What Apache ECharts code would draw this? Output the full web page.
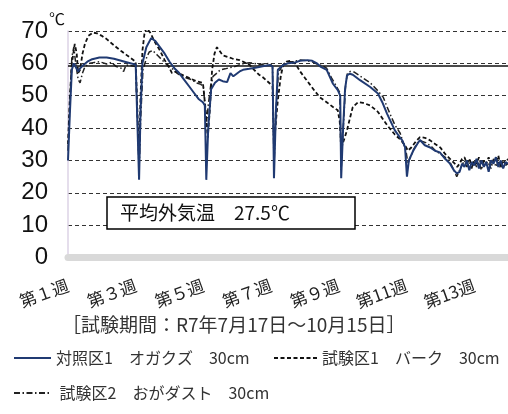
<!DOCTYPE html>
<html>
<head>
<meta charset="utf-8">
<script src="https://cdn.jsdelivr.net/npm/echarts@6/dist/echarts.min.js"></script>
<style>html,body{margin:0;padding:0;background:#fff}#c{width:508px;height:414px}</style>
</head>
<body>
<div id="c"></div>
<script>
// x = day since start of trial (7/17), y = temperature (℃)
const weekLabels = ['第１週','第３週','第５週','第７週','第９週','第11週','第13週'];
const seriesNames = ['対照区1　オガクズ　30cm','試験区1　バーク　30cm','試験区2　おがダスト　30cm'];
const refLine = 59.2;
const outsideTemp = '平均外気温　27.5℃';
const periodText = '［試験期間：R7年7月17日～10月15日］';

const ctrlOgakuzu = [[0,30],[0.4,45],[0.8,58],[1.2,60],[1.6,59.5],[2.1,57.5],[2.5,58.5],[3.2,59.5],[4,60.5],[5,61.3],[6.5,61.8],[8,61.8],[9.5,61.4],[11,60.8],[12.5,60.2],[14,59.6],[14.4,59],[14.7,24],[15.0,45],[15.4,60],[16.2,65],[17.2,67.8],[18,67],[19,65],[20,63],[21,60.5],[22,58.5],[23,57],[24,55],[25,53],[26,51],[27,49],[27.9,48],[28.3,47],[28.6,24],[29,40],[29.6,52],[30.4,54],[31.2,55],[32,54.5],[32.9,54.2],[33.6,57],[34.2,56],[34.6,56.3],[35.5,57.5],[36.2,58],[37.5,58.3],[39,58.7],[40.5,59.2],[41.8,59.5],[42.3,59],[42.6,24.5],[43,45],[43.4,58],[44.5,59.5],[45.5,60],[47,60.3],[48,60.8],[49.5,61],[50.5,60.8],[51.5,60],[52.2,59],[53.5,58],[54.8,53.7],[55.8,51.7],[56.3,50],[56.5,24.5],[56.9,40],[57.3,52],[57.7,56.3],[58.3,56.8],[58.9,56.5],[60.4,54.8],[62.5,52.7],[64.1,50.7],[65,48],[66,44.4],[67.6,39.3],[68.7,37],[69.1,36.3],[69.7,34.2],[70.1,25],[70.5,30],[71.4,33],[72.2,35],[72.8,36.3],[73.8,34.7],[74.9,34],[75.9,33],[76.9,32.5],[78,30.5],[79,29],[79.8,27],[80.4,26],[81,26.5],[81.5,29],[82,28],[82.5,30],[83,27],[83.5,29.5],[84,28.5],[84.5,30.5],[85,27.5],[85.5,30],[86,28],[86.5,29.5],[87,26.5],[87.5,30],[88,29],[88.5,31],[89,28],[89.5,30],[90,27.5],[90.5,29.5],[91,29]];

const testBark = [[0,35],[0.4,50],[0.8,60],[1.4,66],[1.8,63],[2.1,57],[2.5,58],[3,63],[3.5,66],[4.2,68.5],[5.2,69.5],[6,69.3],[7,68.5],[8,67.5],[9,66.2],[10,65],[11,63.8],[12,62.7],[13,61.6],[14,60.5],[14.4,60],[14.7,30],[15.0,50],[15.4,64],[15.8,69],[16.2,71],[16.6,71],[17,69.5],[18,66.5],[19,64],[20,61],[21,58.5],[21.5,57],[22.5,57.5],[23.5,56.5],[25,55.5],[26.5,54.5],[27.9,54],[28.5,45],[28.9,37],[29.3,45],[29.8,58],[30.3,63],[30.8,65],[31.3,64],[32,62.5],[33,62],[34,61.5],[35.5,61],[36.5,60.3],[37.6,59.5],[38.5,58],[39.5,56.5],[40.3,55.7],[41.2,54.5],[41.8,53.7],[42.3,53],[42.6,35],[43.0,42],[43.4,48.6],[44.0,56],[44.5,59.5],[45.2,60.5],[46,60.8],[47,60],[48,57.5],[49,55.5],[50,53.5],[51,51.5],[52.1,49.5],[53.5,48],[54.8,46.5],[55.8,45.5],[56.2,42],[56.5,34],[57,36],[57.7,39.3],[58.3,43],[58.9,46.5],[60,48],[61,47.8],[62.5,47],[64.1,45],[66,40.9],[67.6,38],[68.7,36.5],[69.7,34.7],[70.3,33],[71,34],[72,36],[72.8,37.2],[73.8,37],[74.9,36.2],[76,35],[77,34],[78,32],[79,30.5],[80,29],[80.5,28],[81,29],[81.5,30.5],[82,31],[82.5,29],[83,30.5],[83.5,28.5],[84,30],[84.5,29],[85,31],[85.5,28.5],[86,30],[86.5,29],[87,31],[87.5,28.5],[88,30],[88.5,29.5],[89,31.5],[89.5,28],[90,30],[90.5,29],[91,30.5]];

const testOgaDust = [[0,33],[0.4,48],[0.8,62],[1.2,65],[1.6,60],[2.1,55],[2.5,54],[3,57],[3.5,59],[4.5,60],[5.5,60.3],[6.5,60.5],[8,59.8],[9,60.3],[10,59],[11,58.5],[11.5,57.5],[12,59.5],[13,59.3],[14,59],[14.4,58.5],[14.7,27],[15,42],[15.5,58],[16.3,62],[16.8,63.5],[17.5,64],[18.5,62.5],[19.5,61],[20.5,59.5],[21.5,58.5],[22.5,57],[23.5,56],[24.5,55.5],[25.5,55],[26.5,54],[27.5,53.5],[28,52.5],[28.4,46],[28.7,42],[29,47],[29.5,53],[30,56],[30.8,57],[31.5,58],[32.5,58.3],[33.5,58.7],[34.5,59],[35.5,59.6],[36.5,60],[37.5,60.2],[38.5,60],[39.5,59.6],[40.5,59.8],[41.8,60],[42.3,59],[42.6,28],[43,45],[43.5,57],[44.5,59.8],[45.5,60.5],[46.5,60.5],[48,61],[49.5,60.8],[50.5,60.5],[51.5,59.8],[52.5,59.3],[53.5,58.5],[54.5,55.5],[55.5,53],[56.2,51],[56.5,27],[57,42],[57.4,53],[57.8,57],[58.4,57.5],[59.2,57.3],[60.5,56],[62.5,54],[64.1,51.5],[65.2,49.5],[66,46.5],[67,43],[67.6,41],[68.7,38.4],[69.3,35.6],[69.9,33],[70.3,29],[70.8,31],[71.5,33.5],[72.3,35.5],[73,36],[74,35.5],[75,34.5],[76,33],[77,32],[78,31],[79,29.5],[79.8,27],[80.4,25],[81,27],[81.5,28.5],[82,30],[82.5,28],[83,29.5],[83.5,27.5],[84,30],[84.5,28],[85,29.5],[85.5,27],[86,30],[86.5,28.5],[87,29],[87.5,27.5],[88,30.5],[88.5,28],[89,29.5],[89.5,27.5],[90,30],[90.5,28.5],[91,29]];

const JP = '"Noto Sans CJK JP","Noto Sans",sans-serif';
const chart = echarts.init(document.getElementById('c'), null, {renderer:'canvas'});
const legendBase = {orient:'horizontal', itemWidth:37, itemHeight:12, itemGap:4, padding:0,
  itemStyle:{opacity:0, color:'rgba(0,0,0,0)', borderWidth:0},
  textStyle:{fontFamily:JP, fontSize:16, color:'#333'}, selectedMode:false};
chart.setOption({
  animation:false,
  backgroundColor:'#fff',
  grid:{left:68, right:0, top:31, height:226.5, containLabel:false},
  xAxis:{type:'value', min:0, max:91, interval:14, offset:3,
    axisLine:{show:true, lineStyle:{color:'#d9d9d9', width:7}},
    axisTick:{show:false}, splitLine:{show:false},
    axisLabel:{rotate:20, margin:24, fontFamily:JP, fontSize:17, color:'#222', showMaxLabel:false,
      formatter:v => (v % 14 === 0 && weekLabels[v/14]) ? weekLabels[v/14] : ''}},
  yAxis:{type:'value', min:0, max:70, interval:10,
    axisLine:{show:true, lineStyle:{color:'#ddd3e6', width:1.5}},
    axisTick:{show:false},
    splitLine:{show:true, lineStyle:{color:'#333', type:[4,3], width:1}},
    axisLabel:{margin:20, fontFamily:'"Liberation Sans Narrow","Liberation Sans",Arial,sans-serif', fontSize:24, color:'#111'}},
  legend:[
    Object.assign({}, legendBase, {left:13, top:350, data:[seriesNames[0]]}),
    Object.assign({}, legendBase, {left:273, top:350, itemWidth:43, data:[seriesNames[1]]}),
    Object.assign({}, legendBase, {left:13, top:385, data:[seriesNames[2]],
      formatter:n => ' ' + n})
  ],
  graphic:[
    {type:'text', left:49, top:11, style:{text:'℃', font:'16px '+JP, fill:'#111'}},
    {type:'rect', shape:{x:107, y:197, width:248, height:32}, style:{fill:'#fff', stroke:'#000', lineWidth:1.5}, z:100},
    {type:'text', x:120, y:213, style:{text:outsideTemp, font:'19px '+JP, fill:'#111', textVerticalAlign:'middle'}, z:101},
    {type:'text', x:62, y:325, style:{text:periodText, font:'19px '+JP, fill:'#333', textVerticalAlign:'middle'}}
  ],
  series:[
    {name:seriesNames[0], type:'line', data:ctrlOgakuzu, symbol:'none', z:5,
      lineStyle:{color:'#203a72', width:2}, itemStyle:{color:'#203a72'},
      markLine:{silent:true, symbol:'none', label:{show:false},
        lineStyle:{color:'#111', type:'solid', width:1.6}, data:[{yAxis:refLine}]}},
    {name:seriesNames[1], type:'line', data:testBark, symbol:'none', z:4,
      lineStyle:{color:'#111', width:1.8, type:[4,2.5]}, itemStyle:{color:'#111'}},
    {name:seriesNames[2], type:'line', data:testOgaDust, symbol:'none', z:3,
      lineStyle:{color:'#222', width:1.5, type:[6,2.5,1.5,2.5]}, itemStyle:{color:'#222'}}
  ]
});
</script>
</body>
</html>
